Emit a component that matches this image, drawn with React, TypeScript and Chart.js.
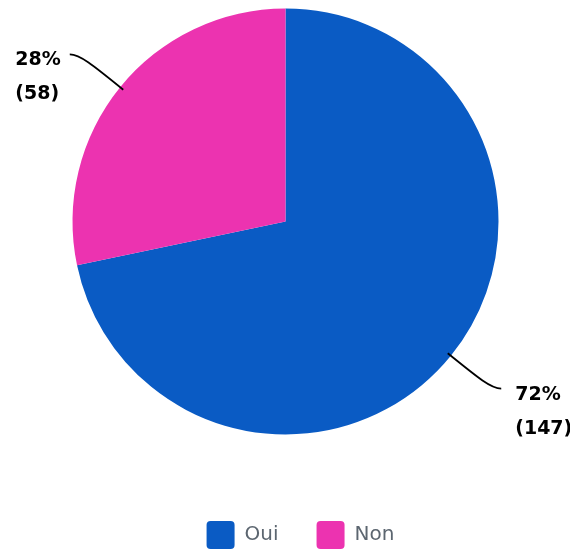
import React, { useEffect, useRef } from "react";
import { Chart, registerables } from "chart.js";

Chart.register(...registerables);

const categories = ["Oui", "Non"];
const counts = [147, 58];
const colors = ["#0a5bc4", "#ec33b0"];

const FONT = "'DejaVu Sans', sans-serif";

const outerLabels = {
  id: "outerLabels",
  afterDatasetsDraw(chart: any) {
    const ctx = chart.ctx;
    const meta = chart.getDatasetMeta(0);
    const data = chart.data.datasets[0].data as number[];
    const total = data.reduce((a: number, b: number) => a + b, 0);
    meta.data.forEach((arc: any, i: number) => {
      const { x, y, startAngle, endAngle, outerRadius } = arc.getProps(
        ["x", "y", "startAngle", "endAngle", "outerRadius"],
        true
      );
      const mid = (startAngle + endAngle) / 2;
      const dx = Math.cos(mid);
      const dy = Math.sin(mid);
      const right = dx >= 0;
      const p0x = x + (outerRadius - 4) * dx;
      const p0y = y + (outerRadius - 4) * dy;
      const d = 52;
      const ex = x + (outerRadius + d) * dx;
      const ey = y + (outerRadius + d) * dy;
      const endX = ex + (right ? 10 : -10);
      const endY = ey;
      ctx.save();
      ctx.strokeStyle = "#000";
      ctx.lineWidth = 1.8;
      ctx.beginPath();
      ctx.moveTo(p0x, p0y);
      ctx.bezierCurveTo(
        x + (outerRadius + d * 0.7) * dx,
        y + (outerRadius + d * 0.7) * dy,
        ex,
        ey,
        endX,
        endY
      );
      ctx.stroke();
      const pct = Math.round((data[i] / total) * 100) + "%";
      const cnt = "(" + data[i] + ")";
      ctx.font = "bold 19px " + FONT;
      ctx.fillStyle = "#000";
      ctx.textAlign = "left";
      ctx.textBaseline = "alphabetic";
      const w = Math.max(ctx.measureText(pct).width, ctx.measureText(cnt).width);
      const lx = right ? endX + 14 : endX - 9 - w;
      ctx.fillText(pct, lx, endY + 11);
      ctx.fillText(cnt, lx, endY + 45);
      ctx.restore();
    });
  },
};

const legendShift = {
  id: "legendShift",
  afterLayout(chart: any) {
    if (chart.legend) {
      chart.legend.left += 15;
      chart.legend.right += 15;
    }
  },
};

export default function App() {
  const ref = useRef<HTMLCanvasElement>(null);
  useEffect(() => {
    const chart = new Chart(ref.current!, {
      type: "pie",
      data: {
        labels: categories,
        datasets: [
          {
            data: counts,
            backgroundColor: colors,
            borderWidth: 0,
            radius: 213,
          } as any,
        ],
      },
      options: {
        responsive: false,
        animation: false,
        devicePixelRatio: 1,
        layout: { padding: { top: 8, left: 1, right: 0, bottom: 0 } },
        plugins: {
          tooltip: { enabled: false },
          legend: {
            position: "bottom",
            title: {
              display: true,
              text: "",
              padding: { top: 36, bottom: 0 },
              font: { size: 12, lineHeight: 1 },
            },
            labels: {
              boxWidth: 28,
              boxHeight: 28,
              padding: 38,
              useBorderRadius: true,
              borderRadius: 4,
              color: "#5c6670",
              font: { family: FONT, size: 20 },
            },
          },
        },
      } as any,
      plugins: [outerLabels, legendShift],
    });
    return () => chart.destroy();
  }, []);
  return (
    <div style={{ position: "fixed", left: 0, top: 0, width: 570, height: 559 }}>
      <canvas ref={ref} width={570} height={559} style={{ display: "block" }} />
    </div>
  );
}
